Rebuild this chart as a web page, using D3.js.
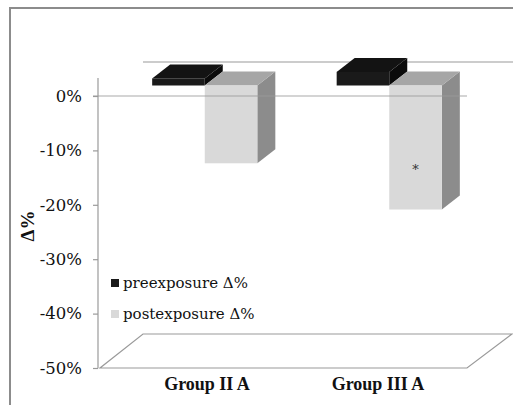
<!DOCTYPE html>
<html>
<head>
<meta charset="utf-8">
<script src="https://cdn.jsdelivr.net/npm/d3@7"></script>
<style>
    body { margin: 0; background: #fff; }
    svg { display: block; }
    svg text { font-family: "DejaVu Serif", "Liberation Serif", serif; }
    svg text.bold { font-family: "Liberation Serif", "Times New Roman", serif; font-weight: bold; }
</style>
</head>
<body>
<svg id="chart" width="513" height="405"></svg>
<script>
// data
const groups = ["Group II A", "Group III A"];
const seriesNames = ["preexposure Δ%", "postexposure Δ%"];
const preValues = [1.3, 2.5];
const postValues = [-14.3, -22.8];
const marks = ["", "*"];
const tickValues = [0, -10, -20, -30, -40, -50];

// face colours for each series: front, top, side
const faceColors = [
    { front: "#1a1a1a", top: "#131313", side: "#0b0b0b" },
    { front: "#d9d9d9", top: "#a6a6a6", side: "#8c8c8c" }
];

const svg = d3.select("#chart");
const gridColor = "#9a9a9a";

// front plane of the plot
const left = 98, right = 467;
const y = d3.scaleLinear().domain([-50, 0]).range([368, 96]);
const x0 = d3.scaleBand().domain(groups).range([left, right])
    .paddingInner(0.43).paddingOuter(0.215);
const x1 = d3.scaleBand().domain(seriesNames).range([0, x0.bandwidth()]);

// oblique 3d offsets
const floorDepth = { dx: 45, dy: -34 };
const barShift = { dx: 14.5, dy: -10.5 };
const barDepth = { dx: 18, dy: -14 };

// outer frame
svg.append("rect")
    .attr("x", 10).attr("y", 8)
    .attr("width", 600).attr("height", 500)
    .attr("fill", "none")
    .attr("stroke", "#8c8c8c")
    .attr("stroke-width", 2);

// floor at the bottom of the scale
const yMin = y(-50);
svg.append("path")
    .attr("d", `M${left + 2},${yMin} L${right},${yMin} L${right + floorDepth.dx},${yMin + floorDepth.dy} L${left + floorDepth.dx},${yMin + floorDepth.dy} Z`)
    .attr("fill", "none")
    .attr("stroke", gridColor)
    .attr("stroke-width", 1.2);

// back wall zero line
svg.append("line")
    .attr("x1", left + floorDepth.dx).attr("x2", right + floorDepth.dx + 2)
    .attr("y1", y(0) + floorDepth.dy).attr("y2", y(0) + floorDepth.dy)
    .attr("stroke", gridColor)
    .attr("stroke-width", 1.2);

// y axis
const yAxis = svg.append("g")
    .attr("transform", `translate(${left},0)`)
    .call(d3.axisLeft(y).tickValues(tickValues).tickSize(5).tickPadding(11)
        .tickFormat(d => d + "%"));
yAxis.attr("font-family", null).attr("font-size", null);
yAxis.select(".domain").remove();
yAxis.selectAll(".tick line").attr("stroke", gridColor).attr("stroke-width", 1.2);
yAxis.selectAll(".tick text")
    .attr("fill", "#111")
    .style("font-size", "16.5px");
svg.append("line")
    .attr("x1", left).attr("x2", left)
    .attr("y1", y(0) - 18).attr("y2", yMin)
    .attr("stroke", gridColor)
    .attr("stroke-width", 1.2);

// bars
function drawBar(g, xFront, width, value, colors) {
    const yZero = y(0) + barShift.dy;
    const yVal = y(value) + barShift.dy;
    const yTop = Math.min(yZero, yVal);
    const yBot = Math.max(yZero, yVal);
    const xl = xFront, xr = xFront + width;
    const { dx, dy } = barDepth;
    g.append("path")
        .attr("d", `M${xr},${yTop} L${xr + dx},${yTop + dy} L${xr + dx},${yBot + dy} L${xr},${yBot} Z`)
        .attr("fill", colors.side);
    g.append("path")
        .attr("d", `M${xl},${yTop} L${xr},${yTop} L${xr + dx},${yTop + dy} L${xl + dx},${yTop + dy} Z`)
        .attr("fill", colors.top);
    g.append("rect")
        .attr("x", xl).attr("y", yTop)
        .attr("width", width).attr("height", yBot - yTop)
        .attr("fill", colors.front);
}

const bars = svg.append("g");
groups.forEach((grp, i) => {
    const vals = [preValues[i], postValues[i]];
    seriesNames.forEach((s, j) => {
        drawBar(bars, x0(grp) + x1(s) + barShift.dx, x1.bandwidth(), vals[j], faceColors[j]);
    });
});

// significance marks on the post bars
svg.append("g").selectAll("text")
    .data(groups)
    .join("text")
    .attr("x", (d) => x0(d) + x1(seriesNames[1]) + barShift.dx + x1.bandwidth() / 2)
    .attr("y", (d, i) => y(postValues[i]) + barShift.dy - 36)
    .attr("text-anchor", "middle")
    .attr("fill", "#333")
    .style("font-size", "13px")
    .text((d, i) => marks[i]);

// front zero line, seen through the bars
svg.append("line")
    .attr("x1", left - 5).attr("x2", right)
    .attr("y1", y(0)).attr("y2", y(0))
    .attr("stroke", gridColor)
    .attr("stroke-width", 1.2)
    .attr("stroke-opacity", 0.85);

// category labels
const xLabel = d3.scalePoint().domain(groups).range([207, 378]);
svg.append("g").selectAll("text")
    .data(groups)
    .join("text")
    .attr("class", "bold")
    .attr("x", d => xLabel(d))
    .attr("y", 390)
    .attr("text-anchor", "middle")
    .attr("fill", "#111")
    .style("font-size", "18px")
    .text(d => d);

// y title
svg.append("text")
    .attr("class", "bold")
    .attr("transform", "translate(34,226) rotate(-90)")
    .attr("text-anchor", "middle")
    .attr("fill", "#111")
    .style("font-size", "19px")
    .text("Δ%");

// legend
const legend = svg.append("g").selectAll("g")
    .data(seriesNames)
    .join("g")
    .attr("transform", (d, i) => `translate(111,${279 + i * 31})`);
legend.append("rect")
    .attr("width", 8).attr("height", 8)
    .attr("fill", (d, i) => faceColors[i].front);
legend.append("text")
    .attr("x", 12).attr("y", 9)
    .attr("fill", "#111")
    .style("font-size", "15px")
    .text(d => d);
</script>
</body>
</html>
